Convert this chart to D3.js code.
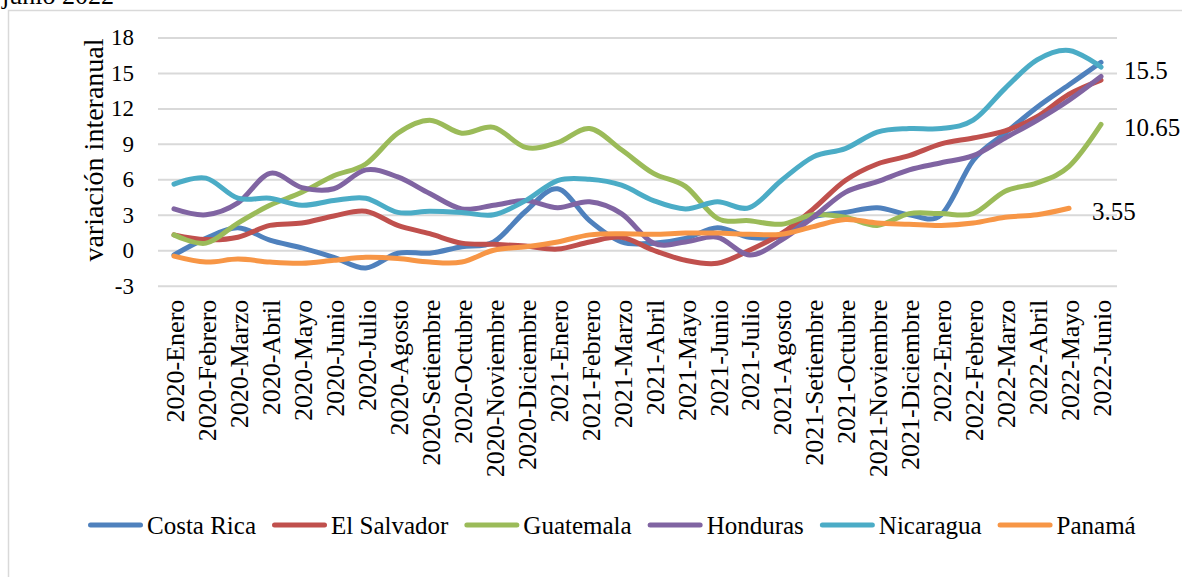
<!DOCTYPE html>
<html>
<head>
<meta charset="utf-8">
<script src="https://cdn.jsdelivr.net/npm/d3@7"></script>
<style>
  html, body { margin: 0; padding: 0; background: #fff; }
  svg { display: block; font-family: "Liberation Serif", "Times New Roman", serif; }
</style>
</head>
<body>
<svg id="chart" width="1182" height="577"></svg>
<script>
// Monthly categories, January 2020 to June 2022
const months = [
  "2020-Enero","2020-Febrero","2020-Marzo","2020-Abril","2020-Mayo","2020-Junio",
  "2020-Julio","2020-Agosto","2020-Setiembre","2020-Octubre","2020-Noviembre","2020-Diciembre",
  "2021-Enero","2021-Febrero","2021-Marzo","2021-Abril","2021-Mayo","2021-Junio",
  "2021-Julio","2021-Agosto","2021-Setiembre","2021-Octubre","2021-Noviembre","2021-Diciembre",
  "2022-Enero","2022-Febrero","2022-Marzo","2022-Abril","2022-Mayo","2022-Junio"
];

// Year-on-year variation by country
const costaRica  = [-0.4, 1.0, 1.9, 0.85, 0.2, -0.6, -1.5, -0.25, -0.25, 0.3, 0.7, 3.3, 5.2, 2.5, 0.7, 0.6, 1.0, 1.9, 1.1, 1.2, 2.8, 3.2, 3.6, 3.0, 3.0, 7.6, 9.9, 12.1, 14.0, 15.9];
const elSalvador = [1.3, 0.9, 1.1, 2.1, 2.3, 2.9, 3.3, 2.1, 1.4, 0.6, 0.5, 0.35, 0.1, 0.7, 1.1, 0.0, -0.85, -1.1, 0.0, 1.4, 3.5, 5.9, 7.3, 8.0, 9.0, 9.5, 10.1, 11.3, 13.2, 14.4];
const guatemala  = [1.3, 0.6, 2.3, 3.8, 4.9, 6.3, 7.3, 9.9, 11.0, 9.9, 10.4, 8.7, 9.1, 10.3, 8.5, 6.5, 5.4, 2.7, 2.5, 2.2, 3.0, 2.8, 2.1, 3.1, 3.1, 3.1, 5.0, 5.7, 7.1, 10.65];
const honduras   = [3.5, 3.0, 4.0, 6.5, 5.3, 5.2, 6.8, 6.2, 4.8, 3.5, 3.8, 4.2, 3.6, 4.1, 3.1, 0.6, 0.7, 1.1, -0.4, 0.85, 2.8, 4.9, 5.8, 6.8, 7.4, 8.0, 9.5, 11.0, 12.7, 14.7];
const nicaragua  = [5.6, 6.1, 4.4, 4.4, 3.8, 4.2, 4.4, 3.2, 3.3, 3.2, 3.0, 4.2, 5.9, 6.0, 5.5, 4.2, 3.5, 4.1, 3.6, 5.9, 7.9, 8.6, 10.0, 10.3, 10.3, 11.0, 13.7, 16.1, 16.9, 15.5];
const panama     = [-0.5, -1.0, -0.75, -1.0, -1.1, -0.85, -0.6, -0.7, -1.0, -1.0, 0.0, 0.3, 0.7, 1.3, 1.4, 1.35, 1.45, 1.45, 1.35, 1.35, 2.0, 2.6, 2.3, 2.2, 2.1, 2.3, 2.8, 3.0, 3.55, null];

const seriesNames  = ["Costa Rica", "El Salvador", "Guatemala", "Honduras", "Nicaragua", "Panamá"];
const seriesValues = [costaRica, elSalvador, guatemala, honduras, nicaragua, panama];
const seriesColors = ["#4F81BD", "#C0504D", "#9BBB59", "#8064A2", "#4BACC6", "#F79646"];

// Value labels: [series index, month index]
const valueLabels = [[4, 29], [2, 29], [5, 28]];

const yTicks = [-3, 0, 3, 6, 9, 12, 15, 18];
const yTitle = "variación interanual";
const headerText = "junio 2022";

const svg = d3.select("#chart");
const plot = { left: 158, right: 1117, top: 37.5, bottom: 285.7 };

const x = d3.scaleBand().domain(months).range([plot.left, plot.right]);
const xc = m => x(m) + x.bandwidth() / 2;
const y = d3.scaleLinear().domain([-3, 18]).range([plot.bottom, plot.top]);

// Outer frame and clipped header line
svg.append("rect")
  .attr("x", 8.5).attr("y", 10.5).attr("width", 1300).attr("height", 700)
  .attr("fill", "none").attr("stroke", "#d9d9d9").attr("stroke-width", 1.5);
svg.append("text")
  .attr("x", 2).attr("y", 4)
  .attr("font-size", 26).attr("fill", "#000")
  .text(headerText);

// Horizontal gridlines and value axis
const yAxis = svg.append("g")
  .attr("transform", `translate(${plot.left},0)`)
  .call(d3.axisLeft(y).tickValues(yTicks).tickFormat(d => String(d))
    .tickSize(-(plot.right - plot.left)).tickPadding(24));
yAxis.select(".domain").remove();
yAxis.selectAll(".tick line").attr("stroke", "#d9d9d9").attr("stroke-width", 2);
yAxis.selectAll(".tick text")
  .attr("font-family", "Liberation Serif")
  .attr("font-size", 23).attr("fill", "#000");

svg.append("text")
  .attr("transform", `translate(103,150) rotate(-90)`)
  .attr("text-anchor", "middle")
  .attr("font-size", 28).attr("fill", "#000")
  .text(yTitle);

// Category axis with vertical labels
const xAxis = svg.append("g")
  .attr("transform", `translate(0,${plot.bottom})`)
  .call(d3.axisBottom(x).tickSize(0).tickPadding(0));
xAxis.select(".domain").remove();
xAxis.selectAll(".tick text")
  .attr("font-family", "Liberation Serif")
  .attr("font-size", 26).attr("fill", "#000")
  .attr("text-anchor", "end")
  .attr("transform", "translate(1,14) rotate(-90)")
  .attr("x", 0).attr("y", 0).attr("dy", "0.35em");

// Smoothed series lines
const line = d3.line()
  .defined(d => d.v !== null)
  .x(d => xc(d.m))
  .y(d => y(d.v))
  .curve(d3.curveCatmullRom.alpha(0));

seriesValues.forEach((vals, i) => {
  svg.append("path")
    .datum(vals.map((v, j) => ({ m: months[j], v })))
    .attr("fill", "none")
    .attr("stroke", seriesColors[i])
    .attr("stroke-width", 5)
    .attr("stroke-linecap", "round")
    .attr("stroke-linejoin", "round")
    .attr("d", line);
});

// Value labels at the end of selected series
valueLabels.forEach(([s, j]) => {
  const v = seriesValues[s][j];
  svg.append("text")
    .attr("x", xc(months[j]) + 23)
    .attr("y", y(v) + 3)
    .attr("dy", "0.35em")
    .attr("font-size", 25).attr("fill", "#000")
    .text(String(v));
});

// Legend
const legend = svg.append("g").attr("transform", "translate(0,525)");
let lx = 88;
seriesNames.forEach((name, i) => {
  legend.append("line")
    .attr("x1", lx + 2.5).attr("x2", lx + 52.5).attr("y1", 0).attr("y2", 0)
    .attr("stroke", seriesColors[i]).attr("stroke-width", 5).attr("stroke-linecap", "round");
  const t = legend.append("text")
    .attr("x", lx + 59).attr("y", 0).attr("dy", "0.35em")
    .attr("font-size", 25).attr("fill", "#000")
    .text(name);
  lx += 59 + t.node().getComputedTextLength() + 16;
});
</script>
</body>
</html>
